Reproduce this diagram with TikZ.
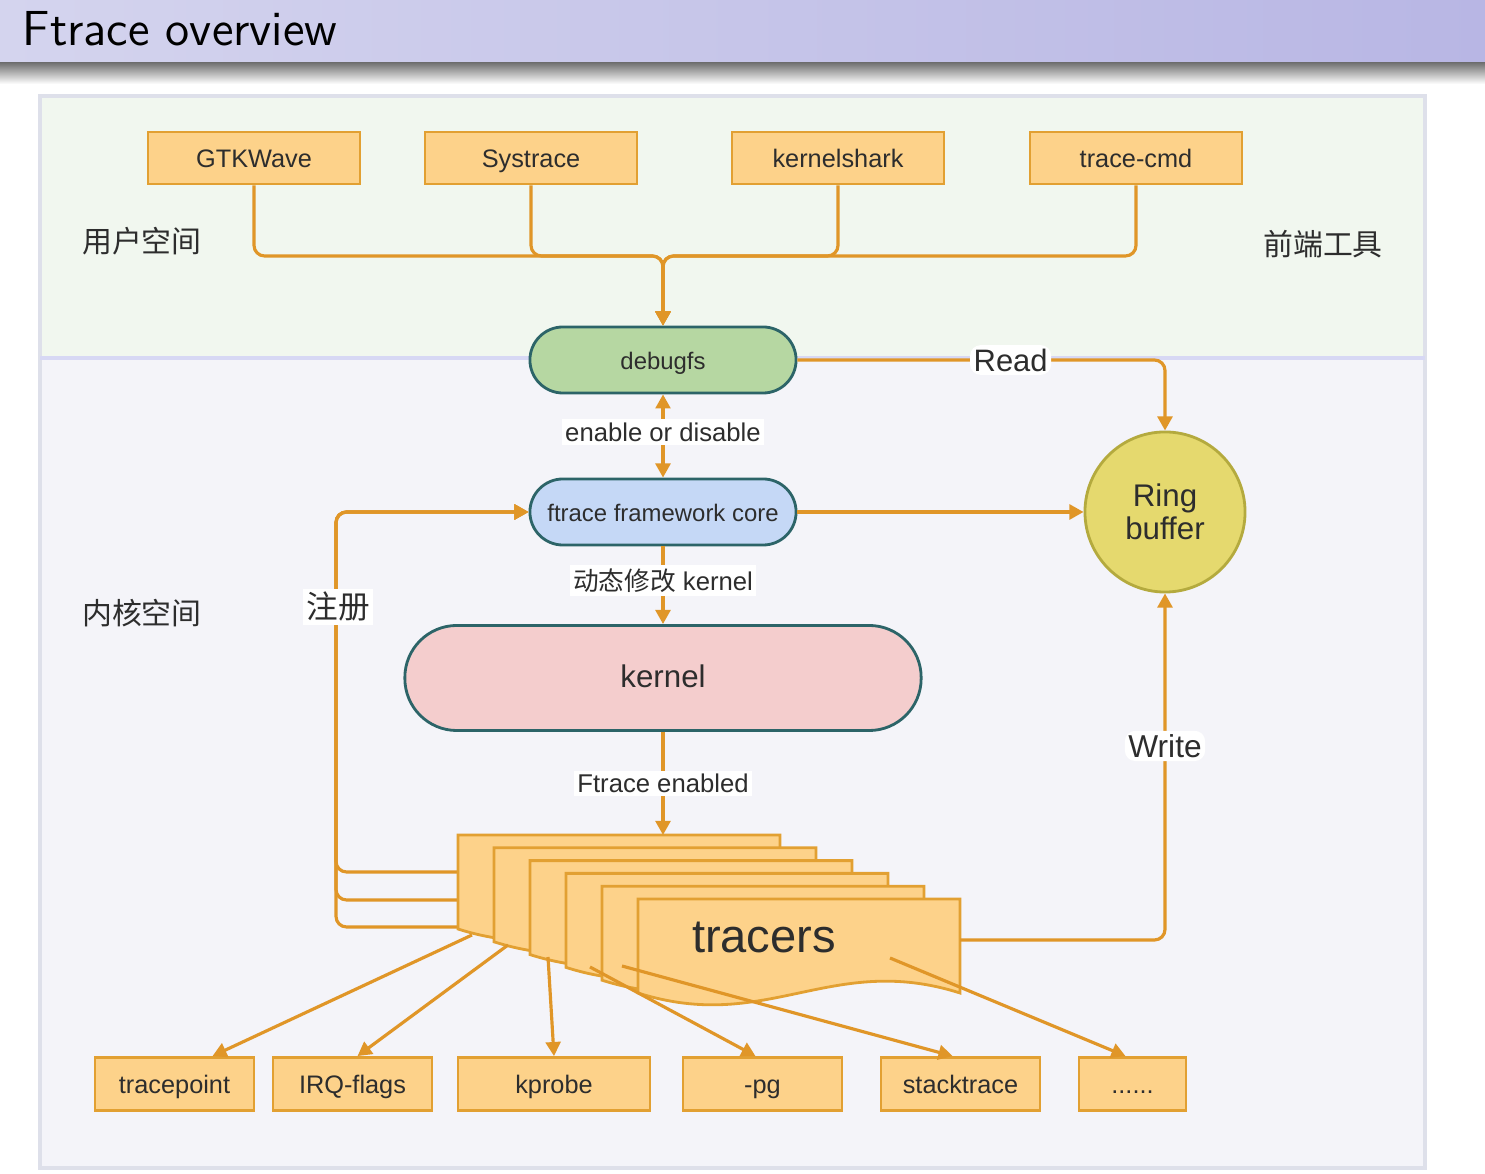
\documentclass[tikz,border=0pt]{standalone}
\usepackage{fontspec}
\setmainfont{Liberation Sans}
\newfontfamily\cjk{Noto Sans CJK SC}
\usepackage{tikz}
\usetikzlibrary{arrows.meta,positioning,calc}
\definecolor{barleft}{RGB}{212,212,238}
\definecolor{barright}{RGB}{184,182,228}
\definecolor{userbg}{RGB}{241,247,239}
\definecolor{kernbg}{RGB}{244,244,249}
\definecolor{regionline}{RGB}{222,224,234}
\definecolor{boxfill}{RGB}{253,210,138}
\definecolor{boxline}{RGB}{226,160,50}
\definecolor{arrowc}{RGB}{224,150,40}
\definecolor{tealline}{RGB}{44,100,104}
\definecolor{dbgfill}{RGB}{182,215,162}
\definecolor{corefill}{RGB}{197,216,246}
\definecolor{kernfill}{RGB}{244,205,205}
\definecolor{ringfill}{RGB}{229,217,110}
\definecolor{ringline}{RGB}{180,170,62}
\definecolor{txt}{RGB}{45,45,45}

\tikzset{
  toolbox/.style={draw=boxline, fill=boxfill, line width=0.8pt,
    minimum width=2.12cm, minimum height=0.52cm, inner sep=0pt,
    text height=1.55ex, text depth=0.5ex,
    text=txt, font=\fontsize{7.2}{8}\selectfont},
  leafbox/.style={toolbox, minimum width=1.59cm, minimum height=0.53cm},
  pill/.style={draw=tealline, line width=0.8pt, rounded corners=0.33cm,
    minimum width=2.66cm, minimum height=0.66cm, inner sep=0pt,
    text height=1.55ex, text depth=0.5ex,
    text=txt, font=\fontsize{6.8}{8}\selectfont},
  flow/.style={draw=arrowc, line width=0.9pt,
    -{Triangle[length=4pt,width=4.2pt]}},
  tag/.style={fill=white, text=txt, inner sep=1pt,
    font=\fontsize{7.3}{8}\selectfont},
  area/.style={text=txt, font=\cjk\fontsize{8.5}{10}\selectfont},
}

\begin{document}
\begin{tikzpicture}[x=0.01cm, y=-0.01cm]
  \useasboundingbox (0,0) rectangle (1485,1174);
  \fill[white] (0,0) rectangle (1485,1174);
  % title bar
  \shade[left color=barleft, right color=barright] (0,0) rectangle (1485,63);
  \shade[top color=black!55, bottom color=white] (0,63) rectangle (1485,84);
  \node[anchor=base west, inner sep=0pt, font=\sffamily\fontsize{14}{16}\selectfont]
    (title) at (22,46) {Ftrace overview};
  % user space / kernel space
  \filldraw[fill=kernbg, draw=regionline, line width=1pt] (40,358) rectangle (1425,1168);
  \filldraw[fill=userbg, draw=regionline, line width=1pt] (40,96) rectangle (1425,358);
  \draw[draw=regionline!85!blue!60!white, line width=1.2pt] (40,358) -- (1425,358);
  \node[area] (userlbl) at (142,241) {用户空间};
  \node[area] (frontlbl) at (1323,244) {前端工具};
  \node[area] (kernlbl) at (142,613) {内核空间};

  % front-end tools
  \node[toolbox] (gtk) at (254,158) {GTKWave};
  \node[toolbox] (systrace) at (531,158) {Systrace};
  \node[toolbox] (kshark) at (838,158) {kernelshark};
  \node[toolbox] (tcmd) at (1136,158) {trace-cmd};

  % central column
  \node[pill, fill=dbgfill] (debugfs) at (663,360) {debugfs};
  \node[pill, fill=corefill] (core) at (663,512) {ftrace framework core};
  \node[pill, fill=kernfill, rounded corners=0.52cm, minimum width=5.16cm,
    minimum height=1.05cm, font=\fontsize{8.9}{10}\selectfont] (kernel) at (663,678) {kernel};
  \node[circle, draw=ringline, fill=ringfill, line width=0.8pt, minimum size=1.6cm,
    align=center, text=txt, font=\fontsize{8.9}{9.3}\selectfont] (ring) at (1165,512) {Ring\\buffer};

  \coordinate (merge) at (663,256);
  \foreach \t in {gtk,systrace,kshark,tcmd}
    \draw[flow, rounded corners=3pt] (\t.south) |- (merge) -- (debugfs.north);

  \draw[flow, {Triangle[length=4pt,width=4.2pt]}-{Triangle[length=4pt,width=4.2pt]}]
    (debugfs.south) -- (core.north) node[tag, pos=0.45] {enable or disable};
  \draw[flow] (core.south) -- (kernel.north)
    node[tag, pos=0.44] {{\cjk 动态修改} kernel};
  \draw[flow, rounded corners=3pt] (debugfs.east) -| (ring.north)
    node[tag, pos=0.29, font=\fontsize{8.8}{10}\selectfont] {Read};
  \draw[flow] (core.east) -- (ring.west);

  % register lines
  \coordinate (regtop) at (336,512);
  \coordinate (reg1) at (458,872);
  \coordinate (reg2) at (458,900);
  \coordinate (reg3) at (458,927);
  \foreach \r in {reg1,reg2,reg3}
    \draw[flow, rounded corners=3pt] (\r) -| (regtop) -- (core.west);
  \node[tag, font=\cjk\fontsize{9}{10}\selectfont] (reglbl) at (338,607) {注册};

  % tracer sheets, back to front
  \foreach \i in {0,...,5} {
    \pgfmathsetmacro{\sx}{458+36*\i}
    \pgfmathsetmacro{\sy}{835+12.8*\i}
    \pgfmathsetmacro{\ex}{\sx+322}
    \pgfmathsetmacro{\ey}{\sy+94}
    \filldraw[fill=boxfill, draw=boxline, line width=0.8pt]
      (\sx,\sy) -- (\ex,\sy) -- (\ex,\ey)
      .. controls (\ex-129,\ey-41) and (\sx+129,\ey+41) .. (\sx,\ey) -- cycle;
  }
  \node[text=txt, font=\fontsize{13.4}{14}\selectfont] (tracers) at (764,938) {tracers};
  \coordinate (sheettop) at (663,835);
  \coordinate (wout) at (960,940);
  \draw[flow] (kernel.south) -- (sheettop) node[tag, midway] {Ftrace enabled};
  \draw[flow, rounded corners=3pt] (wout) -| (ring.south)
    node[tag, pos=0.78, font=\fontsize{9}{10}\selectfont] {Write};

  % tracer back ends
  \node[leafbox] (tp) at (174.5,1084) {tracepoint};
  \node[leafbox] (irq) at (352.5,1084) {IRQ-flags};
  \node[leafbox, minimum width=1.92cm] (kprobe) at (554,1084) {kprobe};
  \node[leafbox] (pg) at (762.5,1084) {-pg};
  \node[leafbox] (stack) at (960.5,1084) {stacktrace};
  \node[leafbox, minimum width=1.07cm] (more) at (1132.5,1084) {......};

  \coordinate (t1) at (472,935);
  \coordinate (t2) at (508,945);
  \coordinate (t3) at (548,957);
  \coordinate (t4) at (590,967);
  \coordinate (t5) at (622,966);
  \coordinate (t6) at (890,958);
  \draw[flow] (t1) -- ($(tp.north)+(38,0)$);
  \draw[flow] (t2) -- ($(irq.north)+(5,0)$);
  \draw[flow] (t3) -- (kprobe.north);
  \draw[flow] (t4) -- ($(pg.north)+(-7,0)$);
  \draw[flow] (t5) -- ($(stack.north)+(-8,0)$);
  \draw[flow] (t6) -- ($(more.north)+(-7,0)$);
\end{tikzpicture}
\end{document}
